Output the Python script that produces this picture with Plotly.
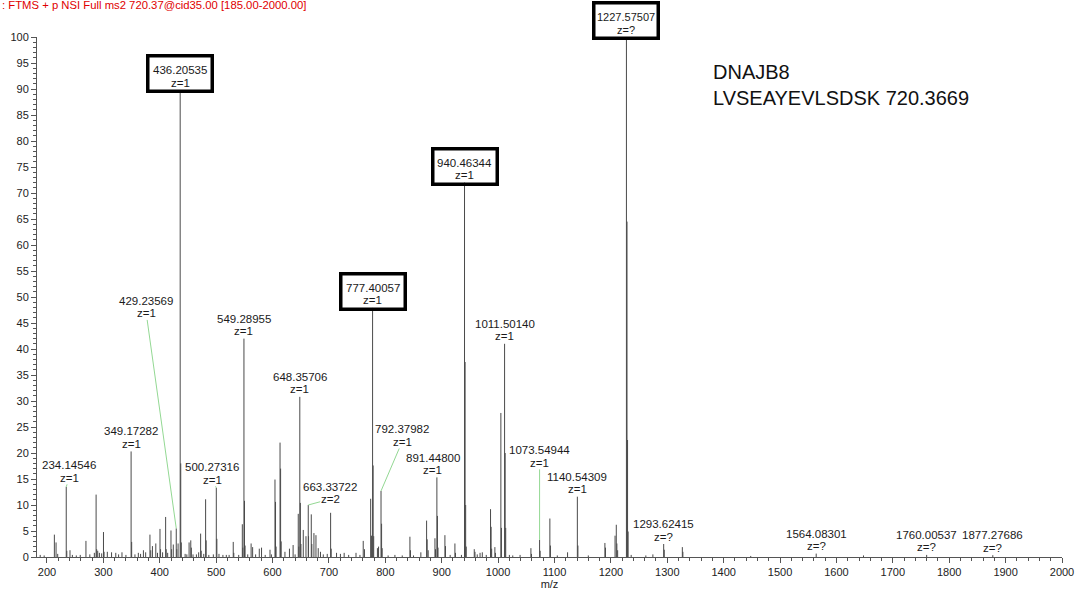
import plotly.graph_objects as go

# ---------------- data ----------------
mz = [188.0, 195.0, 213.1, 216.1, 219.0, 234.14546, 235.15, 240.8, 245.0, 252.0,
      259.0, 269.1, 276.0, 284.0, 287.1, 288.1, 290.0, 293.0, 297.0, 300.2,
      301.2, 307.0, 314.5, 322.0, 327.0, 333.0, 340.0, 349.17282, 350.18, 356.0,
      362.0, 366.0, 371.0, 375.0, 382.6, 384.0, 387.0, 393.0, 396.0, 400.4,
      401.4, 405.0, 410.4, 411.4, 414.0, 419.9, 421.0, 424.0, 429.23569, 430.2,
      432.5, 436.20535, 437.21, 438.21, 445.0, 448.0, 452.0, 455.0, 456.0, 459.0,
      465.0, 469.0, 472.5, 473.5, 478.0, 481.3, 482.3, 487.0, 495.0, 500.27316,
      501.28, 505.0, 512.0, 518.0, 523.0, 530.3, 531.3, 540.0, 546.4, 547.3,
      549.28955, 550.29, 551.29, 556.0, 562.0, 564.7, 570.0, 576.5, 580.5, 587.0,
      595.5, 598.0, 604.3, 605.3, 606.3, 613.3, 614.3, 615.3, 622.0, 630.0,
      636.5, 640.0, 645.6, 646.6, 648.35706, 649.36, 650.36, 654.5, 659.3, 663.33722,
      663.84, 668.7, 669.7, 673.4, 677.0, 681.0, 685.0, 690.0, 697.0, 703.0,
      704.0, 713.5, 720.4, 727.0, 735.0, 748.0, 755.0, 760.8, 763.0, 774.0,
      775.4, 777.40057, 778.4, 779.4, 786.0, 788.0, 792.37982, 793.38, 794.4, 805.0,
      817.0, 830.0, 843.6, 844.6, 850.0, 863.0, 873.2, 874.2, 876.0, 888.0,
      889.0, 891.448, 892.45, 893.45, 905.7, 906.7, 915.0, 923.4, 924.4, 935.0,
      940.46344, 941.47, 942.47, 943.47, 957.7, 959.0, 963.0, 968.0, 972.0, 979.0,
      986.6, 987.6, 988.6, 994.3, 995.3, 1004.9, 1005.9, 1011.5014, 1012.5, 1013.5,
      1020.0, 1026.0, 1039.0, 1058.2, 1059.2, 1073.54944, 1074.55, 1091.8, 1092.8, 1105.0,
      1123.2, 1140.54309, 1141.55, 1160.0, 1189.4, 1190.4, 1207.4, 1209.6, 1210.6, 1212.0,
      1227.57507, 1228.58, 1229.58, 1230.58, 1236.0, 1262.0, 1274.5, 1293.62415, 1294.63, 1326.7,
      1327.7, 1448.0, 1564.08301, 1648.0, 1760.00537, 1877.27686]

intensity = [0.4, 0.3, 4.3, 2.8, 0.6, 13.5, 1.2, 1.3, 0.4, 0.3,
             0.4, 3.1, 0.5, 0.8, 12.0, 1.5, 1.2, 0.8, 0.7, 4.8,
             1.0, 1.0, 0.9, 0.8, 0.5, 0.9, 0.4, 20.3, 2.9, 0.5,
             0.8, 0.6, 1.3, 0.9, 4.3, 1.3, 2.1, 2.6, 0.8, 5.4,
             1.5, 0.9, 7.7, 1.5, 0.8, 5.1, 1.5, 2.4, 5.5, 1.5,
             2.6, 89.8, 18.0, 2.8, 0.6, 0.5, 2.8, 3.2, 1.8, 0.5,
             0.5, 0.9, 4.5, 1.2, 0.6, 11.1, 3.2, 0.4, 0.5, 13.3,
             3.5, 0.6, 0.4, 0.4, 0.4, 2.9, 0.8, 0.4, 6.3, 1.8,
             42.0, 10.8, 2.2, 0.5, 2.6, 1.9, 0.5, 1.6, 1.8, 0.4,
             1.4, 0.5, 14.9, 10.6, 2.0, 22.0, 17.0, 3.0, 1.0, 1.6,
             2.3, 0.5, 8.3, 2.0, 30.8, 10.4, 2.5, 5.2, 4.0, 10.0,
             4.0, 8.2, 2.5, 4.6, 4.2, 1.7, 1.0, 0.5, 0.6, 8.5,
             1.6, 0.8, 0.6, 0.8, 0.4, 0.8, 0.4, 3.1, 1.5, 11.2,
             4.1, 47.9, 17.6, 4.0, 1.7, 2.0, 12.7, 6.4, 1.7, 0.3,
             0.4, 0.3, 3.9, 1.3, 0.3, 0.9, 7.0, 3.4, 1.3, 3.6,
             1.5, 15.3, 7.9, 1.8, 4.2, 2.1, 0.4, 2.6, 0.8, 0.4,
             72.0, 37.5, 10.0, 2.0, 1.5, 1.0, 0.5, 0.8, 0.9, 0.4,
             9.2, 5.8, 1.6, 1.9, 0.8, 27.7, 5.6, 41.0, 20.0, 5.6,
             0.4, 0.3, 0.4, 1.7, 0.6, 3.3, 1.2, 7.4, 2.2, 0.3,
             0.9, 11.6, 2.2, 0.3, 2.7, 1.8, 4.1, 6.2, 2.6, 1.3,
             100.0, 64.5, 22.5, 4.9, 0.4, 0.3, 0.5, 2.5, 1.4, 1.9,
             1.0, 0.2, 0.65, 0.3, 0.4, 0.35]

label_mz = [234.14546, 349.17282, 429.23569, 436.20535, 500.27316, 549.28955,
            648.35706, 663.33722, 777.40057, 792.37982, 891.448, 940.46344,
            1011.5014, 1073.54944, 1140.54309, 1227.57507, 1293.62415,
            1564.08301, 1760.00537, 1877.27686]
label_z = ["z=1", "z=1", "z=1", "z=1", "z=1", "z=1",
           "z=1", "z=2", "z=1", "z=1", "z=1", "z=1",
           "z=1", "z=1", "z=1", "z=?", "z=?",
           "z=?", "z=?", "z=?"]

title_text = ": FTMS + p NSI Full ms2 720.37@cid35.00 [185.00-2000.00]"
info_lines = ["DNAJB8", "LVSEAYEVLSDSK 720.3669"]

# ---------------- styling / layout helpers ----------------
FONT = "Liberation Sans, Arial, Helvetica, sans-serif"
boxed = {436.20535, 777.40057, 940.46344, 1227.57507}
small_font = {1227.57507}
leader = {  # pixel offsets of the "z=" line centre from the peak tip
    234.14546: (3, -9),
    429.23569: (-30, -215),
    500.27316: (-4, -8),
    663.33722: (22, -6),
    792.37982: (21, -49),
    891.448: (-4, -7),
    1073.54944: (0, -77),
}

xs, ys = [], []
for m, v in zip(mz, intensity):
    xs += [m, m, None]
    ys += [0, v, None]

fig = go.Figure(go.Scatter(x=xs, y=ys, mode="lines",
                           line=dict(color="#4a4a4a", width=1),
                           hoverinfo="skip", showlegend=False))

box_annots, text_annots = [], []
for lm, lz in zip(label_mz, label_z):
    h = intensity[mz.index(lm)]
    txt = f"{lm:.5f}"
    lab_font = dict(family=FONT, size=11 if lm in small_font else 11.5,
                    color="#1a1a1a")
    if lm in boxed:
        box_annots.append(dict(x=lm, y=h, xref="x", yref="y", text=" ",
                               showarrow=False, xanchor="center", yanchor="bottom",
                               yshift=-3, width=61, height=32, borderpad=0,
                               bordercolor="black", borderwidth=3.5,
                               bgcolor="rgba(255,255,255,0)"))
    if lm in leader:
        ax, ay = leader[lm]
        text_annots.append(dict(x=lm, y=h, xref="x", yref="y", text=lz,
                                showarrow=True, arrowhead=0, arrowwidth=1,
                                arrowcolor="#93d893", ax=ax, ay=ay,
                                font=lab_font, borderpad=0))
        text_annots.append(dict(x=lm, y=h, xref="x", yref="y", text=txt,
                                showarrow=False, xshift=ax, yshift=-ay + 12.5,
                                font=lab_font))
    else:
        text_annots.append(dict(x=lm, y=h, xref="x", yref="y", text=lz,
                                showarrow=False, yshift=7.5, font=lab_font))
        text_annots.append(dict(x=lm, y=h, xref="x", yref="y", text=txt,
                                showarrow=False, yshift=20, font=lab_font))

annotations = box_annots + text_annots
annotations.append(dict(x=-37 / 1025, y=(557 - 5) / 520, xref="paper", yref="paper",
                        text=title_text, showarrow=False, xanchor="left",
                        yanchor="middle",
                        font=dict(family=FONT, size=11.3, color="#e00000")))
annotations.append(dict(x=(711 - 37) / 1025, y=(557 - 84.5) / 520,
                        xref="paper", yref="paper",
                        text="<br>".join(info_lines), showarrow=False,
                        xanchor="left", yanchor="middle", align="left",
                        font=dict(family=FONT, size=20, color="#111111")))

axis_common = dict(showline=True, linecolor="#555", linewidth=1, showgrid=False,
                   zeroline=False, ticks="outside", ticklen=5, tickcolor="#555",
                   tickwidth=1,
                   tickfont=dict(family=FONT, size=11, color="#222"))

fig.update_layout(
    width=1081, height=593,
    margin=dict(l=37, r=19, t=37, b=36),
    plot_bgcolor="white", paper_bgcolor="white",
    xaxis=dict(range=[182.3, 2000], tickmode="linear", tick0=200, dtick=100,
               minor=dict(tick0=200, dtick=20, ticks="outside", ticklen=3,
                          tickcolor="#555", showgrid=False),
               title=dict(text="m/z", standoff=2,
                          font=dict(family=FONT, size=11, color="#222")),
               automargin=False, **axis_common),
    yaxis=dict(range=[0, 100], tickmode="linear", tick0=0, dtick=5,
               minor=dict(tick0=0, dtick=1, ticks="outside", ticklen=3,
                          tickcolor="#555", showgrid=False),
               automargin=False, **axis_common),
    annotations=annotations,
)

fig.write_html("out.html")
